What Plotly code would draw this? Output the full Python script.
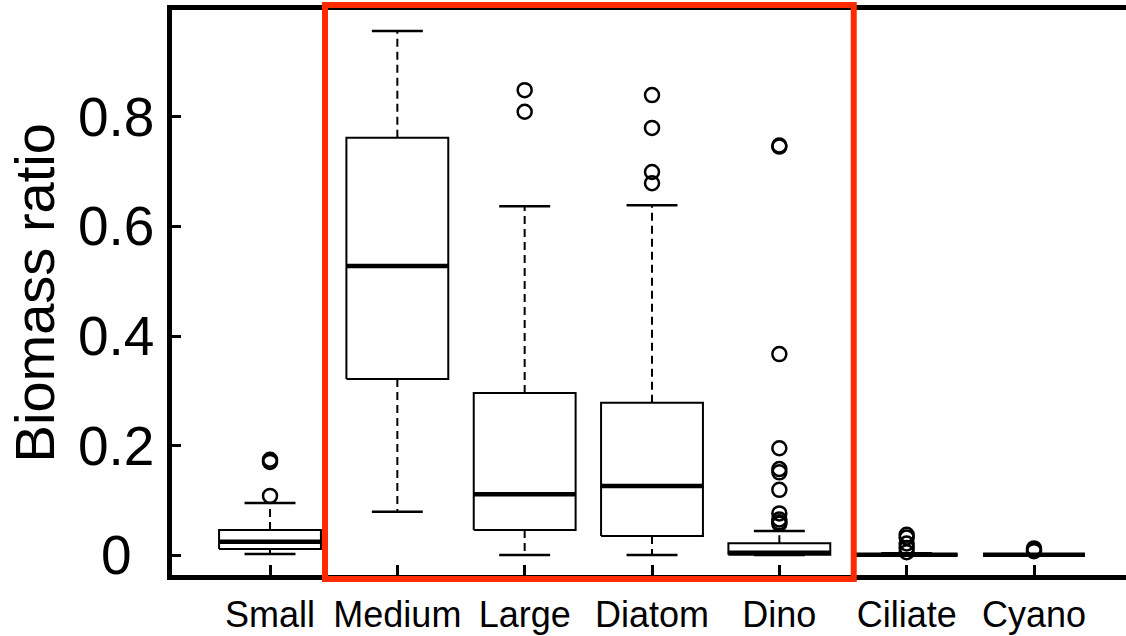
import plotly.graph_objects as go

# Box-plot summaries of biomass ratio per plankton group
categories = ["Small", "Medium", "Large", "Diatom", "Dino", "Ciliate", "Cyano"]
lower_whisker = [0.002, 0.079, 0.0, 0.0, 0.0, 0.0, 0.0]
q1 = [0.011, 0.3215, 0.0457, 0.0347, 0.0005, 0.0003, 0.0002]
median = [0.024, 0.528, 0.111, 0.126, 0.004, 0.0006, 0.0003]
q3 = [0.0457, 0.762, 0.296, 0.278, 0.0215, 0.001, 0.0005]
upper_whisker = [0.095, 0.957, 0.637, 0.639, 0.044, 0.003, 0.0008]
outliers = [
    [0.108, 0.170, 0.174],
    [],
    [0.849, 0.8095],
    [0.840, 0.780, 0.6995, 0.679],
    [0.748, 0.746, 0.367, 0.195, 0.157, 0.151, 0.119, 0.076, 0.065, 0.060, 0.057],
    [0.037, 0.032, 0.021, 0.013, 0.005],
    [0.012, 0.009, 0.007],
]
y_tick_values = [0, 0.2, 0.4, 0.6, 0.8]
y_tick_labels = ["0", "0.2", "0.4", "0.6", "0.8"]

BOX_HALF = 0.4
CAP_HALF = 0.2
FONT = "Liberation Sans, Arial, Helvetica, sans-serif"

positions = list(range(1, len(categories) + 1))

box_x, box_y = [], []
med_x, med_y = [], []
wh_x, wh_y = [], []
cap_x, cap_y = [], []
out_x, out_y = [], []
for p, lo, a, m, b, hi, pts in zip(positions, lower_whisker, q1, median, q3,
                                   upper_whisker, outliers):
    box_x += [p - BOX_HALF, p + BOX_HALF, p + BOX_HALF, p - BOX_HALF, p - BOX_HALF, None]
    box_y += [a, a, b, b, a, None]
    med_x += [p - BOX_HALF, p + BOX_HALF, None]
    med_y += [m, m, None]
    wh_x += [p, p, None, p, p, None]
    wh_y += [b, hi, None, a, lo, None]
    cap_x += [p - CAP_HALF, p + CAP_HALF, None, p - CAP_HALF, p + CAP_HALF, None]
    cap_y += [hi, hi, None, lo, lo, None]
    out_x += [p] * len(pts)
    out_y += pts

fig = go.Figure()
fig.add_trace(go.Scatter(x=wh_x, y=wh_y, mode="lines",
                         line=dict(color="black", width=2, dash="8px,5px"),
                         hoverinfo="skip"))
fig.add_trace(go.Scatter(x=cap_x, y=cap_y, mode="lines",
                         line=dict(color="black", width=2.5), hoverinfo="skip"))
fig.add_trace(go.Scatter(x=box_x, y=box_y, mode="lines",
                         line=dict(color="black", width=2), hoverinfo="skip"))
fig.add_trace(go.Scatter(x=med_x, y=med_y, mode="lines",
                         line=dict(color="black", width=4.5), hoverinfo="skip"))
fig.add_trace(go.Scatter(x=out_x, y=out_y, mode="markers",
                         marker=dict(symbol="circle-open", size=14, color="black",
                                     line=dict(width=2.5, color="black"))))

# Highlight frame around the Medium..Dino groups
fig.add_shape(type="rect", xref="paper", yref="paper",
              x0=0.1604, x1=0.7146, y0=-0.0071, y1=1.0089,
              line=dict(color="#ff2a00", width=6), layer="above")

# y tick labels are centred on a common column, so they are drawn as annotations
for v, t in zip(y_tick_values, y_tick_labels):
    fig.add_annotation(x=-0.0587, xref="paper", y=v, yref="y", text=t,
                       showarrow=False, xanchor="center", yanchor="middle",
                       font=dict(size=55, family=FONT, color="black"))

fig.update_layout(
    width=1126, height=636,
    margin=dict(l=172, r=0, t=10, b=61),
    plot_bgcolor="white", paper_bgcolor="white",
    showlegend=False,
    font=dict(family=FONT, color="black"),
)
fig.update_xaxes(
    range=[0.2303, 7.7225],
    tickvals=positions, ticktext=categories,
    tickfont=dict(size=36), ticklabelstandoff=4,
    ticks="inside", ticklen=10, tickwidth=2.5, tickcolor="black",
    showline=True, linewidth=5, linecolor="black", mirror=True,
    showgrid=False, zeroline=False,
)
fig.update_yaxes(
    range=[-0.0365, 0.9954],
    tickvals=y_tick_values, ticktext=[" " * 3] * len(y_tick_values),
    tickfont=dict(size=55),
    ticks="inside", ticklen=9, tickwidth=2.5, tickcolor="black",
    showline=True, linewidth=5, linecolor="black",
    showgrid=False, zeroline=False,
)
fig.add_annotation(x=-0.1437, xref="paper", y=0.5, yref="paper",
                   text="Biomass ratio", textangle=-90, showarrow=False,
                   xanchor="center", yanchor="middle",
                   font=dict(size=56, family=FONT, color="black"))

fig.write_html("out.html")
